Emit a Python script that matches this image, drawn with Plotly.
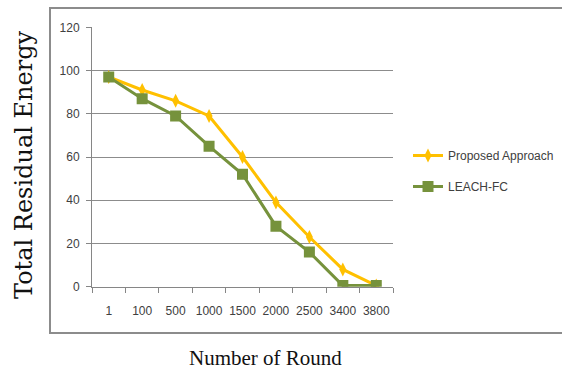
import plotly.graph_objects as go

# Rounds (categorical x axis) and residual energy of each protocol
rounds = ["1", "100", "500", "1000", "1500", "2000", "2500", "3400", "3800"]
proposed_energy = [97, 91, 86, 79, 60, 39, 23, 8, 0.5]
leach_fc_energy = [97, 87, 79, 65, 52, 28, 16, 0.5, 0.5]
y_ticks = [0, 20, 40, 60, 80, 100, 120]

W, H = 562, 374
# plot area in pixels
px_left, px_right = 92, 393
py_top, py_bottom = 27.3, 286.7

fig = go.Figure()

fig.add_trace(go.Scatter(
    x=rounds, y=proposed_energy, name="Proposed Approach",
    legendgroup="proposed",
    mode="lines+markers",
    line=dict(color="#FFC000", width=3),
    marker=dict(symbol="diamond-tall", size=10, color="#FFC000"),
))
fig.add_trace(go.Scatter(
    x=rounds, y=leach_fc_energy, name="LEACH-FC",
    legendgroup="leach",
    mode="lines+markers",
    line=dict(color="#76923C", width=3),
    marker=dict(symbol="square", size=11, color="#76923C"),
))

tick_font = dict(family="Liberation Sans", size=12, color="#404040")

fig.update_layout(
    width=W, height=H,
    margin=dict(l=0, r=0, t=0, b=0),
    paper_bgcolor="white", plot_bgcolor="white",
    showlegend=True,
    legend=dict(
        x=408 / W, y=1 - 171 / H, xanchor="left", yanchor="middle",
        font=dict(family="Liberation Sans", size=12, color="#404040"),
        bgcolor="rgba(0,0,0,0)", tracegroupgap=12, itemwidth=30,
    ),
    xaxis=dict(
        domain=[px_left / W, px_right / W],
        type="category", tickson="boundaries",
        range=[-0.5, len(rounds) - 0.5],
        tickangle=0,
        ticks="outside", ticklen=5, tickcolor="#868686",
        showline=True, linecolor="#868686", linewidth=1,
        showgrid=False, zeroline=False,
        tickfont=tick_font, ticklabelstandoff=13,
        automargin=False,
    ),
    yaxis=dict(
        domain=[1 - py_bottom / H, 1 - py_top / H],
        range=[0, 120], tickvals=y_ticks,
        ticks="outside", ticklen=5, tickcolor="#868686",
        showline=True, linecolor="#868686", linewidth=1,
        showgrid=True, gridcolor="#8C8C8C", gridwidth=1,
        zeroline=False, tickfont=tick_font, ticklabelstandoff=4,
        automargin=False,
    ),
)

# axis titles positioned outside the chart frame
fig.add_annotation(
    text="Number of Round", xref="paper", yref="paper",
    x=265 / W, y=1 - 358 / H, showarrow=False,
    font=dict(family="Liberation Serif", size=21, color="#111111"),
    xanchor="center", yanchor="middle",
)
fig.add_annotation(
    text="Total Residual Energy", xref="paper", yref="paper",
    x=24 / W, y=1 - 165 / H, showarrow=False, textangle=-90,
    font=dict(family="DejaVu Serif", size=24, color="#111111"),
    xanchor="center", yanchor="middle",
)

# chart frame
fig.add_shape(
    type="rect", xref="paper", yref="paper",
    x0=50 / W, x1=1.02, y0=1 - 333 / H, y1=1 - 8 / H,
    line=dict(color="#8C8C8C", width=2), fillcolor="rgba(0,0,0,0)",
    layer="below",
)

fig.write_html("out.html")
